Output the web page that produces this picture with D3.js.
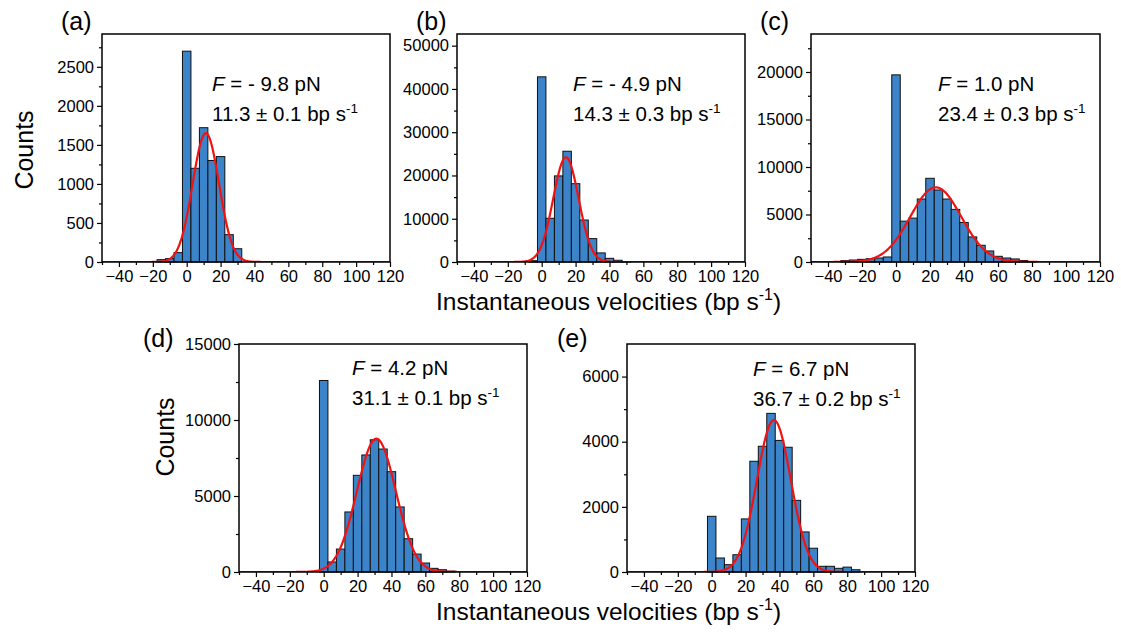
<!DOCTYPE html>
<html>
<head>
<meta charset="utf-8">
<script src="https://cdn.jsdelivr.net/npm/d3@7"></script>
<style>
  body { margin: 0; background: #fff; }
  text { font-family: "Liberation Sans", Arial, sans-serif; fill: #000; }
</style>
</head>
<body>
<div id="main"></div>
<script>
// panel labels and annotation text
const panelLabels = ["(a)", "(b)", "(c)", "(d)", "(e)"];
const forces = ["- 9.8", "- 4.9", "1.0", "4.2", "6.7"];
const speeds = ["11.3 ± 0.1", "14.3 ± 0.3", "23.4 ± 0.3", "31.1 ± 0.1", "36.7 ± 0.2"];

// y axis limits / major step per panel
const yMax = [2920, 52700, 24000, 15000, 7000];
const yStep = [500, 10000, 5000, 5000, 2000];

// x axis (shared)
const xMin = -50, xMax = 120;
const xTicks = [-40, -20, 0, 20, 40, 60, 80, 100, 120];
const binWidth = 5;

// histogram bins (centers) and counts
const binsA = [-15, -10, -5, 0, 5, 10, 15, 20, 25, 30];
const countsA = [30, 43, 120, 2700, 1200, 1720, 1300, 1350, 350, 170];

const binsB = [-5, 0, 5, 10, 15, 20, 25, 30, 35, 40, 45, 50];
const countsB = [300, 42800, 10100, 19900, 25600, 18100, 9700, 5400, 2100, 850, 400, 100];

const binsC = [-30, -25, -20, -15, -10, -5, 0, 5, 10, 15, 20, 25, 30, 35, 40, 45, 50, 55, 60, 65, 70, 75, 80];
const countsC = [140, 210, 280, 350, 420, 530, 19700, 4300, 4620, 6630, 8810, 7580, 6630, 5540, 4160, 2640, 1760, 1160, 600, 420, 320, 160, 50];

const binsD = [0, 5, 10, 15, 20, 25, 30, 35, 40, 45, 50, 55, 60, 65, 70, 75];
const countsD = [12600, 660, 1510, 3950, 6360, 7700, 8700, 8090, 6600, 4280, 2190, 1180, 590, 240, 150, 60];

const binsE = [0, 5, 10, 15, 20, 25, 30, 35, 40, 45, 50, 55, 60, 65, 70, 75, 80, 85];
const countsE = [1710, 430, 225, 530, 1630, 3400, 3860, 4870, 4040, 3830, 2200, 1230, 730, 175, 175, 113, 150, 70];

// gaussian fit parameters: centre, amplitude, sigma
const fitMu = [11.3, 14.3, 23.4, 31.1, 36.7];
const fitAmp = [1650, 24200, 7860, 8770, 4665];
const fitSigma = [7.8, 7.5, 15, 11.5, 10];

const allBins = [binsA, binsB, binsC, binsD, binsE];
const allCounts = [countsA, countsB, countsC, countsD, countsE];

// layout of each frame: plot box, panel label spot, annotation spot
const frames = [
    {x0: 102, x1: 390, y0: 34, y1: 262, lab: [61, 30], ann: [212, 91]},
    {x0: 457, x1: 745, y0: 34, y1: 262, lab: [416, 30], ann: [573, 91]},
    {x0: 811, x1: 1100, y0: 34, y1: 262, lab: [760, 30], ann: [938, 91]},
    {x0: 239, x1: 527, y0: 344, y1: 572, lab: [143, 347], ann: [352, 375]},
    {x0: 627, x1: 915, y0: 344, y1: 572, lab: [557, 347], ann: [753, 376]},
];

const BAR_FILL = "#3c84c9";
const FIT_COLOR = "#f21212";

const svg = d3.select("#main").append("svg")
    .attr("width", 1121).attr("height", 635);

function drawPanel(i) {
    const f = frames[i];
    const x = d3.scaleLinear().domain([xMin, xMax]).range([f.x0, f.x1]);
    const y = d3.scaleLinear().domain([0, yMax[i]]).range([f.y1, f.y0]);
    const g = svg.append("g");

    g.append("clipPath").attr("id", "clip" + i)
        .append("rect").attr("x", f.x0).attr("y", f.y0)
        .attr("width", f.x1 - f.x0).attr("height", f.y1 - f.y0);

    // bars
    const data = allBins[i].map((c, k) => ({c: c, n: allCounts[i][k]}));
    g.append("g").selectAll("rect").data(data).enter().append("rect")
        .attr("x", d => x(d.c - binWidth / 2))
        .attr("width", d => x(d.c + binWidth / 2) - x(d.c - binWidth / 2))
        .attr("y", d => y(d.n))
        .attr("height", d => y(0) - y(d.n))
        .attr("fill", BAR_FILL)
        .attr("stroke", "#111")
        .attr("stroke-width", 1);

    // gaussian fit
    const xs = d3.range(xMin, xMax + 0.01, 0.5);
    const fit = xs.map(v => [v, fitAmp[i] * Math.exp(-Math.pow(v - fitMu[i], 2) / (2 * fitSigma[i] * fitSigma[i]))]);
    g.append("path").datum(fit)
        .attr("clip-path", "url(#clip" + i + ")")
        .attr("fill", "none")
        .attr("stroke", FIT_COLOR)
        .attr("stroke-width", 2.2)
        .attr("d", d3.line().x(d => x(d[0])).y(d => y(d[1])));

    // axes
    const yMajor = d3.range(0, yMax[i] + 1, yStep[i]);
    const yMinor = d3.range(yStep[i] / 2, yMax[i], yStep[i]);
    const xMinor = d3.range(-50, 121, 10).filter(v => xTicks.indexOf(v) < 0);

    g.append("g").attr("transform", "translate(" + f.x0 + ",0)")
        .call(d3.axisLeft(y).tickValues(yMajor).tickSize(5).tickPadding(3).tickFormat(d3.format("d")));
    g.append("g").attr("transform", "translate(" + f.x0 + ",0)")
        .call(d3.axisLeft(y).tickValues(yMinor).tickSize(3).tickFormat(""));
    g.append("g").attr("transform", "translate(0," + f.y1 + ")")
        .call(d3.axisBottom(x).tickValues(xTicks).tickSize(5).tickPadding(3).tickFormat(d3.format("d")));
    g.append("g").attr("transform", "translate(0," + f.y1 + ")")
        .call(d3.axisBottom(x).tickValues(xMinor).tickSize(3).tickFormat(""));
    g.selectAll(".domain").remove();
    g.selectAll(".tick line").attr("stroke", "#000").attr("stroke-width", 1.2);
    g.selectAll(".tick text").attr("font-size", 16.5)
        .attr("font-family", "'Liberation Sans', Arial, sans-serif").attr("fill", "#000");

    // frame
    g.append("rect").attr("x", f.x0).attr("y", f.y0)
        .attr("width", f.x1 - f.x0).attr("height", f.y1 - f.y0)
        .attr("fill", "none").attr("stroke", "#000").attr("stroke-width", 1.5);

    // panel label
    g.append("text").attr("x", f.lab[0]).attr("y", f.lab[1])
        .attr("font-size", 25).text(panelLabels[i]);

    // annotation
    const t1 = g.append("text").attr("x", f.ann[0]).attr("y", f.ann[1]).attr("font-size", 20.5);
    t1.append("tspan").attr("font-style", "italic").text("F");
    t1.append("tspan").text(" = " + forces[i] + " pN");
    const t2 = g.append("text").attr("x", f.ann[0]).attr("y", f.ann[1] + 30).attr("font-size", 20.5);
    t2.append("tspan").text(speeds[i] + " bp s");
    t2.append("tspan").attr("dy", -8).attr("font-size", 13.5).text("-1");
}

for (let i = 0; i < 5; i++) drawPanel(i);

function xTitle(xp, yp) {
    const t = svg.append("text").attr("x", xp).attr("y", yp).attr("font-size", 24.5);
    t.append("tspan").text("Instantaneous velocities (bp s");
    t.append("tspan").attr("dy", -10).attr("font-size", 16).text("-1");
    t.append("tspan").attr("dy", 10).text(")");
}
function yTitle(xp, yp) {
    svg.append("text").attr("transform", "translate(" + xp + "," + yp + ") rotate(-90)")
        .attr("text-anchor", "middle").attr("font-size", 25).text("Counts");
}

xTitle(436, 310);
xTitle(436, 620);
yTitle(33, 150);
yTitle(174, 437);
</script>
</body>
</html>
